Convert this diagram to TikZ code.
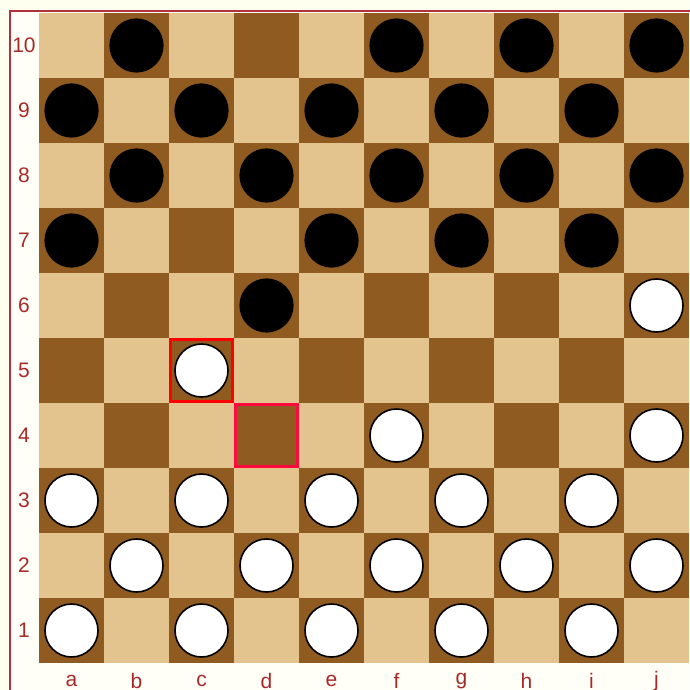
\documentclass[tikz,border=0pt]{standalone}
\usepackage{fontspec}
\setmainfont{Liberation Sans}
\definecolor{lightsq}{HTML}{E3C48E}
\definecolor{darksq}{HTML}{8F5B21}
\definecolor{framered}{HTML}{B0323C}
\definecolor{labelred}{HTML}{A52A2A}
\definecolor{cream}{HTML}{FFFFF0}
\definecolor{hlred}{HTML}{FF0000}
\definecolor{hlcrimson}{HTML}{FF0A3C}
\tikzset{
  lbl/.style={text=labelred, font=\fontsize{21}{21}\selectfont, inner sep=0pt, anchor=center},
  blackpc/.style={fill=black, draw=black, line width=1.2pt},
  whitepc/.style={fill=white, draw=black, line width=1.6pt},
  hlbox/.style={line width=3pt},
}
\begin{document}
\begin{tikzpicture}[x=1pt,y=-1pt]
\useasboundingbox (0,0) rectangle (689,690);
\fill[cream] (0,0) rectangle (689,690);
\fill[white!50!cream] (11,12) rectangle (689,690);
\draw[framered, line width=2.5pt] (10,691) -- (10,11) -- (690,11);
% squares
\foreach \i in {0,...,9} {
  \foreach \r in {1,...,10} {
    \pgfmathtruncatemacro\p{mod(\i+\r+1,2)}
    \ifnum\p=0
      \fill[darksq] ({39+65*\i},{13+65*(10-\r)}) rectangle ++(65,65);
    \else
      \fill[lightsq] ({39+65*\i},{13+65*(10-\r)}) rectangle ++(65,65);
    \fi
  }
}
% black pieces
\foreach \f/\r in {1/10,5/10,7/10,9/10, 0/9,2/9,4/9,6/9,8/9, 1/8,3/8,5/8,7/8,9/8, 0/7,4/7,6/7,8/7, 3/6} {
  \draw[blackpc] ({39+65*\f+32.5},{13+65*(10-\r)+32.5}) circle (26.5);
}
% white pieces
\foreach \f/\r in {9/6, 2/5, 5/4,9/4, 0/3,2/3,4/3,6/3,8/3, 1/2,3/2,5/2,7/2,9/2, 0/1,2/1,4/1,6/1,8/1} {
  \draw[whitepc] ({39+65*\f+32.5},{13+65*(10-\r)+32.5}) circle (26.5);
}
% highlights
\draw[hlbox, hlred] (170.5,339.5) rectangle (232.5,401.5);
\draw[hlbox, hlcrimson] (235.5,404.5) rectangle (297.5,466.5);
% rank labels
\foreach \r in {1,...,10} {
  \node[lbl] (rank\r) at (24,{13+65*(10-\r)+32.5}) {\r};
}
% file labels
\foreach \f [count=\k from 0] in {a,b,c,d,e,f,g,h,i,j} {
  \node[lbl] (file\f) at ({39+65*\k+32.5},681) {\f};
}
\end{tikzpicture}
\end{document}
